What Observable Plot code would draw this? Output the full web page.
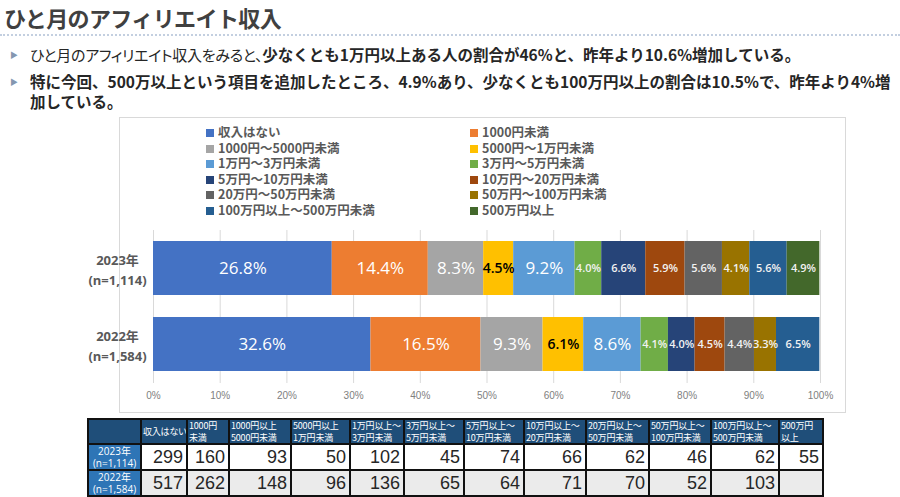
<!DOCTYPE html>
<html><head><meta charset="utf-8">
<script src="https://cdn.jsdelivr.net/npm/d3@7"></script>
<script src="https://cdn.jsdelivr.net/npm/@observablehq/plot@0.6"></script>
<style>
body{margin:0;width:900px;height:497px;overflow:hidden;background:#fff;position:relative;font-family:"Noto Sans CJK JP",sans-serif;}
#title{position:absolute;left:4px;top:2px;font-size:22px;font-weight:bold;color:#404040;line-height:30px;letter-spacing:-0.6px;}
#rule{position:absolute;left:0;top:34px;width:900px;border-top:2px dotted #c3cfe0;}
.bul{position:absolute;left:10px;color:#262626;font-size:15.5px;line-height:19.5px;}
.bul .mk{position:absolute;left:0;top:0;font-size:8px;color:#8497b0;}
.bul .tx{position:absolute;left:20px;white-space:nowrap;}
.n{font-weight:normal;font-size:15px;font-feature-settings:"palt";letter-spacing:-0.3px;}
.b{font-weight:bold;}
#box{position:absolute;left:119px;top:117px;width:725px;height:294px;border:1px solid #d9d9d9;}
#legend{position:absolute;left:206px;top:124px;display:grid;grid-template-columns:264px 200px;}
#legend .it{height:15.6px;line-height:15.6px;font-size:12.5px;font-weight:bold;color:#595959;white-space:nowrap;}
#legend .sw{display:inline-block;width:8px;height:8px;margin-right:4px;vertical-align:0px;}
#chart{position:absolute;left:60px;top:210px;}
#tbl{position:absolute;left:87px;top:418px;border-collapse:collapse;table-layout:fixed;width:735px;}
#tbl th{background:#1f4e79;color:#fff;font-size:9px;font-weight:normal;text-align:left;vertical-align:middle;padding:0 1px;line-height:11.5px;height:23px;border:2px solid #111;white-space:nowrap;overflow:hidden;font-feature-settings:"palt";letter-spacing:-0.2px;}
#tbl td{border:2px solid #111;padding:0 3px;height:23px;}
#tbl td.lab{background:#2e75b6;color:#fff;font-family:"Open Sans","Noto Sans CJK JP",sans-serif;font-size:10px;text-align:center;line-height:12px;padding:0;white-space:nowrap;}
#tbl td.num{font-family:"Liberation Sans Narrow","Liberation Sans",sans-serif;font-size:18px;text-align:right;color:#262626;}
#tbl tr.r1 td.num{background:#fff;}
#tbl tr.r2 td.num{background:#ebebeb;}
</style></head><body>
<div id="title">ひと月のアフィリエイト収入</div>
<div id="rule"></div>
<div class="bul" style="top:45px"><span class="mk">▶</span><span class="tx"><span class="n">ひと月のアフィリエイト収入をみると、</span><span class="b">少なくとも1万円以上ある人の割合が46%と、昨年より10.6%増加している。</span></span></div>
<div class="bul" style="top:72px"><span class="mk">▶</span><span class="tx b">特に今回、500万以上という項目を追加したところ、4.9%あり、少なくとも100万円以上の割合は10.5%で、昨年より4%増<br>加している。</span></div>
<div id="box"></div>
<div id="legend"></div>
<div id="chart"></div>
<table id="tbl"></table>
<script>
const categories = ["収入はない","1000円未満","1000円～5000円未満","5000円～1万円未満","1万円～3万円未満","3万円～5万円未満","5万円～10万円未満","10万円～20万円未満","20万円～50万円未満","50万円～100万円未満","100万円以上～500万円未満","500万円以上"];
const colors = ["#4472c4","#ed7d31","#a5a5a5","#ffc000","#5b9bd5","#70ad47","#264478","#9e480e","#636363","#997300","#255e91","#43682b"];
const years = ["2023年","2022年"];
const samples = ["(n=1,114)","(n=1,584)"];
const share2023 = [26.8,14.4,8.3,4.5,9.2,4.0,6.6,5.9,5.6,4.1,5.6,4.9];
const share2022 = [32.6,16.5,9.3,6.1,8.6,4.1,4.0,4.5,4.4,3.3,6.5,null];
const xTicks = [0,10,20,30,40,50,60,70,80,90,100];
const tableHeaders = ["","収入はない","1000円\n未満","1000円以上\n5000円未満","5000円以上\n1万円未満","1万円以上～\n3万円未満","3万円以上～\n5万円未満","5万円以上～\n10万円未満","10万円以上～\n20万円未満","20万円以上～\n50万円未満","50万円以上～\n100万円未満","100万円以上～\n500万円未満","500万円\n以上"];
const counts2023 = [299,160,93,50,102,45,74,66,62,46,62,55];
const counts2022 = [517,262,148,96,136,65,64,71,70,52,103,null];

// legend
const lg = document.getElementById("legend");
categories.forEach((c,i)=>{
  const d = document.createElement("div"); d.className="it";
  d.innerHTML = `<span class="sw" style="background:${colors[i]}"></span>${c}`;
  lg.appendChild(d);
});

// chart data
const data = [];
[share2023, share2022].forEach((arr, yi) => arr.forEach((v, j) => { if (v != null) data.push({year: years[yi], cat: categories[j], idx: j, value: v}); }));
const bigSet = new Set([0,1,2,4]);
const lab = d => d.value.toFixed(1) + "%";
const font = '"Open Sans","Noto Sans CJK JP",sans-serif';
const stackOpts = extra => Plot.stackX({x: "value", y: "year", z: "cat", ...extra});

const chart = Plot.plot({
  width: 790, height: 200,
  marginLeft: 93, marginRight: 30, marginTop: 9, marginBottom: 17,
  x: {domain: [0, 100], axis: null},
  y: {domain: years, padding: 0.284, axis: null},
  color: {domain: categories, range: colors},
  style: {fontFamily: font, overflow: "visible", background: "transparent"},
  marks: [
    Plot.ruleX(xTicks, {x: d => d, stroke: "#d9d9d9", strokeWidth: 1, insetTop: 11, insetBottom: 10}),
    Plot.barX(data, stackOpts({fill: "cat"})),
    Plot.text(data, stackOpts({text: d => bigSet.has(d.idx) ? lab(d) : null, fill: "#fff", fontSize: 17})),
    Plot.text(data, stackOpts({text: d => d.idx === 3 ? lab(d) : null, fill: "#000", fontSize: 14, fontWeight: 600})),
    Plot.text(data, stackOpts({text: d => (d.idx > 4) ? lab(d) : null, fill: "#f2f2f2", fontSize: 11, fontWeight: 600})),
    Plot.text(xTicks, {x: d => d, frameAnchor: "bottom", dy: 5, text: d => d + "%", fill: "#808080", fontSize: 10, fontFamily: '"Liberation Sans",sans-serif'}),
    Plot.text(years, {y: d => d, frameAnchor: "left", dx: -36, textAnchor: "middle", text: (d, i) => d + "\n" + samples[i], fill: "#595959", fontSize: 13, fontWeight: "bold", lineHeight: 1.55})
  ]
});
document.getElementById("chart").appendChild(chart);

// table
const widths = [53,46,42,62,59,54,60,60,62,63,62,68,44];
let h = "<colgroup>" + widths.map(w => `<col style="width:${w}px">`).join("") + "</colgroup>";
h += "<tr>" + tableHeaders.map(t => `<th>${t.replace("\n","<br>")}</th>`).join("") + "</tr>";
[counts2023, counts2022].forEach((arr, i) => {
  h += `<tr class="r${i+1}"><td class="lab">${years[i]}<br>${samples[i]}</td>` + arr.map(v => `<td class="num">${v == null ? "" : v}</td>`).join("") + "</tr>";
});
document.getElementById("tbl").innerHTML = h;
</script>
</body></html>
